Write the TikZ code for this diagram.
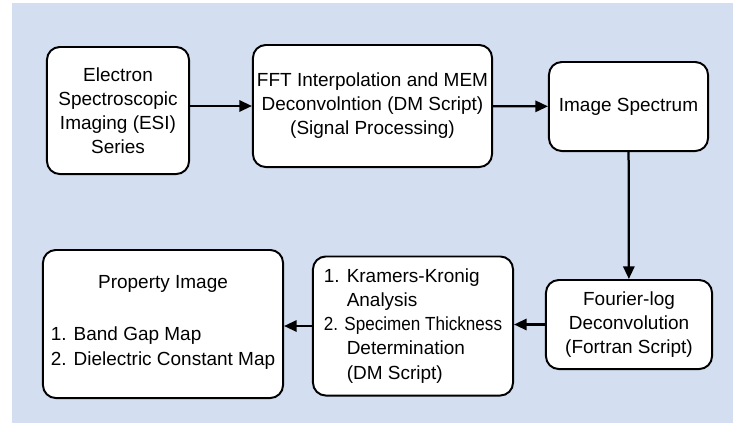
\documentclass[tikz,border=0pt]{standalone}
\usepackage{fontspec}
\setmainfont{Liberation Sans}
\usepackage{graphicx}
\usepackage{tikz}
\usetikzlibrary{arrows.meta, positioning}

\definecolor{bgblue}{RGB}{211,223,240}

\begin{document}
\begin{tikzpicture}[x = 0.025cm, y = -0.025cm,
		every node/.append style = {font=\fontsize{13.5}{17.1}\selectfont},
		blk/.style = {draw, line width=1.4pt, rounded corners=0.32cm, fill=white, align=center, inner sep=0pt},
		flow/.style = {-{Triangle[length=9pt, width=8pt]}, line width=1.6pt}]
			\useasboundingbox (0,0) rectangle (733,423);
			\fill[bgblue] (12,3) rectangle (733,423);

			% top row
			\node[blk, minimum width=3.55cm, minimum height=3.175cm] (esi) at (118,110.5) {Electron\\Spectroscopic\\Imaging (ESI)\\Series};
			\node[blk, minimum width=5.975cm, minimum height=3.05cm] (fft) at (372.5,106) {FFT Interpolation and MEM\\Deconvolntion (DM Script)\\(Signal Processing)};
			\node[blk, minimum width=3.975cm, minimum height=2.225cm] (spec) at (628.5,106.5) {Image Spectrum};

			% bottom row
			\node[blk, minimum width=4.15cm, minimum height=2.225cm] (flog) at (629,324.5) {Fourier-log\\Deconvolution\\(Fortran Script)};
			\node[blk, align=left, minimum width=5cm, minimum height=3.475cm] (kk) at (413,326) {1. Kramers-Kronig\\\hphantom{1. }Analysis\\\scalebox{0.9}[1]{2. Specimen Thickness}\\\hphantom{1. }Determination\\\hphantom{1. }(DM Script)};
			\node[blk, minimum width=6cm, minimum height=3.7cm] (prop) at (163,324) {Property Image\\[20pt]\begin{tabular}[t]{@{}l@{}}1. Band Gap Map\\[1pt]2. Dielectric Constant Map\end{tabular}};

			\draw[flow] (esi.east |- fft.west) -- (fft.west);
			\draw[flow] (fft) -- (spec);
			\draw[flow] (spec) -- (flog);
			\draw[flow] (flog.west) -- (kk.east |- flog.west);
			\draw[flow] (kk.west) -- (prop.east |- kk.west);
		\end{tikzpicture}
\end{document}
